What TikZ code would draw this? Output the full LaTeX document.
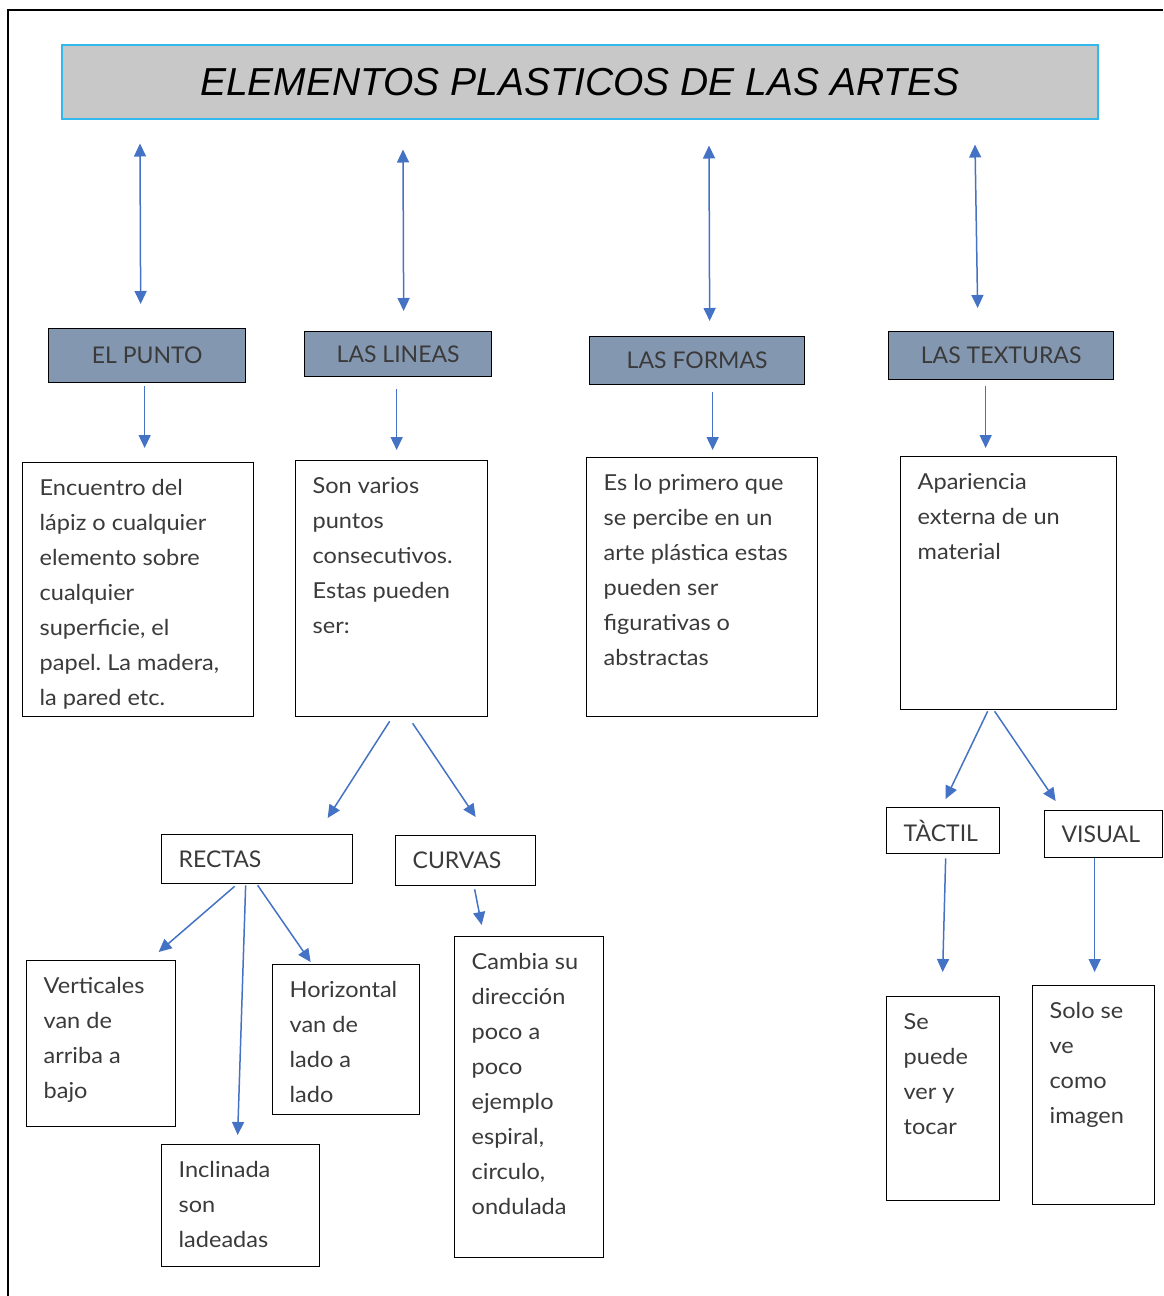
\documentclass[tikz,border=0pt]{standalone}
\usepackage{fontspec}
\setmainfont{Lato}
\newfontfamily\bodyfont{Lato}[FakeStretch=1.07]
\newfontfamily\titlefont{Liberation Sans}
\usetikzlibrary{arrows.meta,calc}
\frenchspacing

\definecolor{arrblue}{HTML}{4472C4}
\definecolor{catfill}{HTML}{8497B0}
\definecolor{titleblue}{HTML}{33B8EC}
\definecolor{titlegray}{HTML}{C8C8C8}
\definecolor{txtgray}{HTML}{3A3A3A}

% box width, box height, lines
\newcommand{\boxlines}[3]{\parbox[c][#2pt][t]{\dimexpr#1pt-34pt\relax}{\raggedright\setlength{\baselineskip}{35pt}\rule{0pt}{33pt}#3}}

\tikzset{
  con/.style={arrblue, line width=1.5pt, -{Triangle[length=13pt,width=12pt]}},
  dbl/.style={con, {Triangle[length=13pt,width=12pt]}-{Triangle[length=13pt,width=12pt]}},
  cat/.style={draw=black, line width=1.3pt, fill=catfill, anchor=north west, inner sep=0pt,
    text=txtgray, font=\fontsize{23}{28}\selectfont},
  lbl/.style={draw=black, line width=1.3pt, anchor=north west, inner xsep=17pt, inner ysep=0pt,
    align=left, text=txtgray, font=\fontsize{23}{28}\selectfont},
  desc/.style={draw=black, line width=1.3pt, anchor=north west, inner xsep=17pt, inner ysep=0pt,
    text=txtgray, font=\bodyfont\fontsize{22}{35}\selectfont},
}

\begin{document}
\begin{tikzpicture}[x=1pt,y=-1pt]
  \useasboundingbox (0,0) rectangle (1163,1296);
  \draw[line width=2pt] (8,1296) -- (8,10) -- (1163,10);

  % title
  \node[draw=titleblue, line width=1.5pt, fill=titlegray, anchor=north west, inner sep=0pt,
        minimum width=1036, minimum height=74, font=\titlefont\itshape\fontsize{39}{48}\selectfont]
        (title) at (61,44) {ELEMENTOS PLASTICOS DE LAS ARTES};

  % elements
  \node[cat, minimum width=197, minimum height=54] (punto) at (48,328) {EL PUNTO};
  \node[cat, minimum width=187, minimum height=45] (lineas) at (304,331) {LAS LINEAS};
  \node[cat, minimum width=215, minimum height=48] (formas) at (589,336) {LAS FORMAS};
  \node[cat, minimum width=225, minimum height=48] (texturas) at (888,331) {LAS TEXTURAS};

  \node[desc] (pdesc) at (22,462) {\boxlines{231}{254}{Encuentro del\\ lápiz o cualquier\\ elemento sobre\\ cualquier\\ superficie, el\\ papel. La madera,\\ la pared etc.}};
  \node[desc] (ldesc) at (295,460) {\boxlines{192}{256}{Son varios\\ puntos\\ consecutivos.\\ Estas pueden\\ ser:}};
  \node[desc] (fdesc) at (586,457) {\boxlines{231}{259}{Es lo primero que\\ se percibe en un\\ arte plástica estas\\ pueden ser\\ figurativas o\\ abstractas}};
  \node[desc] (tdesc) at (900,456) {\boxlines{216}{253}{Apariencia\\ externa de un\\ material}};

  % lineas
  \node[lbl, text width=157, minimum height=49] (rectas) at (161,834) {RECTAS};
  \node[lbl, text width=106, minimum height=50] (curvas) at (395,835) {CURVAS};
  \node[desc] (vert) at (26,960) {\boxlines{149}{166}{Verticales\\ van de\\ arriba a\\ bajo}};
  \node[desc] (horiz) at (272,964) {\boxlines{147}{150}{Horizontal\\ van de\\ lado a\\ lado}};
  \node[desc] (incl) at (161,1144) {\boxlines{158}{122}{Inclinada\\ son\\ ladeadas}};
  \node[desc] (cambia) at (454,936) {\boxlines{149}{321}{Cambia su\\ dirección\\ poco a\\ poco\\ ejemplo\\ espiral,\\ circulo,\\ ondulada}};

  % texturas
  \node[lbl, text width=79, minimum height=46] (tactil) at (886,807) {TÀCTIL};
  \node[lbl, text width=84, minimum height=47] (visual) at (1044,810) {VISUAL};
  \node[desc] (tocar) at (886,996) {\boxlines{113}{204}{Se\\ puede\\ ver y\\ tocar}};
  \node[desc] (imagen) at (1032,985) {\boxlines{122}{219}{Solo se\\ ve\\ como\\ imagen}};

  % connectors
  \draw[dbl] ($(title.south west)+(79,24)$) -- ($(punto.north)+(-6.5,-24)$);
  \draw[dbl] ($(title.south west)+(342,30)$) -- ($(lineas.north)+(5.5,-20)$);
  \draw[dbl] ($(title.south west)+(648,26)$) -- ($(formas.north)+(12.5,-15)$);
  \draw[dbl] ($(title.south west)+(914,25)$) -- ($(texturas.north)+(-23.5,-23)$);

  \draw[con] ($(punto.south)+(-2.5,3)$) -- ($(pdesc.north)+(6.5,-14)$);
  \draw[con] ($(lineas.south)+(-1.5,12)$) -- ($(ldesc.north)+(5,-10)$);
  \draw[con] ($(formas.south)+(15.5,7)$) -- ($(fdesc.north)+(10.5,-7)$);
  \draw[con] ($(texturas.south)+(-15.5,6)$) -- ($(tdesc.north)+(-23,-8)$);

  \draw[con] ($(ldesc.south)+(-2,4)$) -- ($(rectas.north)+(70.5,-16)$);
  \draw[con] ($(ldesc.south)+(21,6)$) -- ($(curvas.north)+(10,-18)$);
  \draw[con] ($(rectas.south)+(-22.5,2)$) -- ($(vert.north)+(57.5,-8)$);
  \draw[con] ($(rectas.south)+(-11.5,1)$) -- ($(incl.north)+(-3,-9)$);
  \draw[con] ($(rectas.south)+(0.5,1)$) -- ($(horiz.north)+(-35.5,-2)$);
  \draw[con] ($(curvas.south)+(9,3)$) -- ($(cambia.north)+(-47.5,-11)$);

  \draw[con] ($(tdesc.south)+(-21,1)$) -- ($(tactil.north)+(2.5,-8)$);
  \draw[con] ($(tdesc.south)+(-14,1)$) -- ($(visual.north)+(-48,-9)$);
  \draw[con] ($(tactil.south)+(2.5,4)$) -- ($(tocar.north)+(-0.5,-24)$);
  \draw[con] ($(visual.south)+(-9,0)$) -- ($(imagen.north)+(1,-13)$);
\end{tikzpicture}
\end{document}
